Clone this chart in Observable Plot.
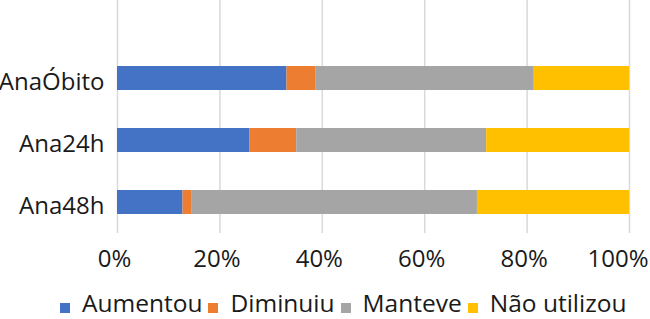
<!DOCTYPE html>
<html>
<head>
<meta charset="utf-8">
<script src="https://cdn.jsdelivr.net/npm/d3@7"></script>
<script src="https://cdn.jsdelivr.net/npm/@observablehq/plot@0.6"></script>
<style>
  html, body { margin: 0; padding: 0; background: #fff; }
  body { width: 650px; height: 319px; overflow: hidden; font-family: "Open Sans", Lato, sans-serif; }
  #chart svg { overflow: visible; display: block; }
  #legend { display: flex; align-items: flex-start; height: 29px; font-size: 24.5px; line-height: 26px; color: #1a1a1a; padding-left: 60px; white-space: nowrap; }
  #legend .item { display: flex; align-items: flex-start; margin-right: 6px; height: 26px; }
  #legend .sw { width: 10px; height: 10px; margin-right: 12px; margin-top: 12.5px; flex: none; }
</style>
</head>
<body>
<div id="chart"></div>
<div id="legend"></div>
<script>
const categories = ["AnaÓbito", "Ana24h", "Ana48h"];
const series = ["Aumentou", "Diminuiu", "Manteve", "Não utilizou"];
const colors = ["#4472C4", "#ED7D31", "#A5A5A5", "#FFC000"];
const aumentou = [33.1, 25.8, 12.8];
const diminuiu = [5.6, 9.2, 1.8];
const manteve = [42.7, 37.1, 55.7];
const naoUtilizou = [18.6, 27.9, 29.7];
const xTicks = [0, 20, 40, 60, 80, 100];

const valuesBySeries = [aumentou, diminuiu, manteve, naoUtilizou];
const data = [];
series.forEach((s, si) => {
  categories.forEach((c, ci) => {
    data.push({cat: c, series: s, value: valuesBySeries[si][ci]});
  });
});

const fmt = d => d + "%";
const lastTick = xTicks[xTicks.length - 1];
const innerTicks = xTicks.slice(0, -1);

const chart = Plot.plot({
  width: 650,
  height: 290,
  marginLeft: 117,
  marginRight: 21,
  marginTop: 0,
  marginBottom: 57,
  style: {fontFamily: "'Open Sans', Lato, sans-serif", fontSize: "24px", color: "#1a1a1a", background: "#fff"},
  x: {domain: [0, 100], ticks: xTicks, tickFormat: fmt, label: null},
  y: {domain: categories, range: [47, 233], paddingInner: 0.613, paddingOuter: 0.3065, label: null},
  color: {domain: series, range: colors},
  marks: [
    Plot.ruleX(xTicks, {stroke: "#d9d9d9", strokeWidth: 1.5}),
    Plot.barX(data, Plot.stackX({x: "value", y: "cat", fill: "series", order: series})),
    Plot.axisX(innerTicks, {tickSize: 0, tickPadding: 16, tickFormat: fmt, fontSize: 24, dx: -3, label: null, fill: "#1a1a1a"}),
    Plot.axisX([lastTick], {tickSize: 0, tickPadding: 16, tickFormat: fmt, fontSize: 24, textAnchor: "end", dx: 19, label: null, fill: "#1a1a1a"}),
    Plot.axisY({tickSize: 0, tickPadding: 13, fontSize: 24, dy: 4, label: null, fill: "#1a1a1a"})
  ]
});
document.getElementById("chart").appendChild(chart);

const legend = document.getElementById("legend");
series.forEach((s, i) => {
  const item = document.createElement("div");
  item.className = "item";
  const sw = document.createElement("span");
  sw.className = "sw";
  sw.style.background = colors[i];
  const t = document.createElement("span");
  t.textContent = s;
  item.appendChild(sw);
  item.appendChild(t);
  legend.appendChild(item);
});
</script>
</body>
</html>
